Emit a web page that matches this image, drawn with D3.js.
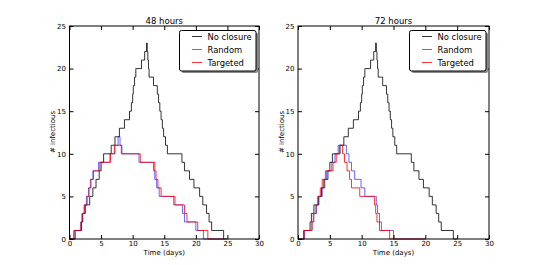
<!DOCTYPE html>
<html>
<head>
<meta charset="utf-8">
<script src="https://cdn.jsdelivr.net/npm/d3@7"></script>
<style>
  body { margin: 0; background: #fff; }
  text { font-family: "DejaVu Sans", sans-serif; font-size: 7px; fill: #000; }
</style>
</head>
<body>
<svg id="chart" width="544" height="265"></svg>
<script>
// step series: time (days) where the count changes, and the count after it
var xTicks = [0, 5, 10, 15, 20, 25, 30];
var yTicks = [0, 5, 10, 15, 20, 25];
var seriesNames = ['No closure', 'Random', 'Targeted'];
var panelTitles = ['48 hours', '72 hours'];

var noClosureT = [0, 0.9, 1.9, 2.1, 2.5, 3.2, 3.7, 4.2, 4.7, 5.0, 5.4, 6.6, 7.2, 7.9, 8.7, 9.5, 9.8, 10.0, 10.1, 10.3, 10.5, 11.4, 11.9, 12.2, 12.3, 12.4, 12.5, 12.6, 13.3, 13.9, 14.1, 14.3, 14.5, 14.7, 14.9, 15.2, 15.5, 17.8, 18.2, 19.0, 19.7, 20.6, 21.1, 21.7, 22.1, 22.5, 24.4, 25.0];
var noClosureV = [0, 1, 2, 3, 4, 5, 6, 7, 8, 9, 10, 11, 12, 13, 14, 15, 16, 17, 18, 19, 20, 21, 22, 23, 22, 21, 20, 19, 18, 17, 16, 15, 14, 13, 12, 11, 10, 9, 8, 7, 6, 5, 4, 3, 2, 1, 0, 0];

var random48T = [0, 0.7, 1.8, 2.0, 2.3, 2.7, 3.0, 3.3, 3.7, 4.6, 6.4, 7.2, 7.7, 8.0, 8.3, 11.0, 13.3, 13.5, 13.8, 14.2, 16.5, 17.9, 18.2, 20.0, 21.2, 24.5];
var random48V = [0, 1, 2, 3, 4, 5, 6, 7, 8, 9, 10, 11, 12, 11, 10, 9, 8, 7, 6, 5, 4, 3, 2, 1, 0, 0];
var targeted48T = [0, 0.7, 1.8, 2.0, 2.4, 2.8, 3.1, 3.4, 3.8, 4.8, 6.5, 7.1, 8.2, 11.2, 13.5, 13.7, 14.0, 14.5, 16.7, 18.2, 18.6, 20.3, 21.9, 24.5];
var targeted48V = [0, 1, 2, 3, 4, 5, 6, 7, 8, 9, 10, 11, 10, 9, 8, 7, 6, 5, 4, 3, 2, 1, 0, 0];

var random72T = [0, 1.0, 2.2, 2.5, 2.9, 3.3, 3.8, 4.0, 4.5, 5.3, 5.8, 6.3, 7.6, 8.0, 8.4, 8.9, 9.9, 10.5, 12.3, 12.5, 12.8, 13.1, 15.0, 20.0];
var random72V = [0, 1, 2, 3, 4, 5, 6, 7, 8, 9, 10, 11, 10, 9, 8, 7, 6, 5, 4, 3, 2, 1, 0, 0];
var targeted72T = [0, 0.95, 2.2, 2.4, 2.8, 3.1, 3.5, 3.8, 4.3, 5.5, 6.0, 6.5, 7.0, 7.3, 7.7, 8.1, 8.4, 9.7, 12.0, 12.2, 12.4, 12.8, 14.4, 20.0];
var targeted72V = [0, 1, 2, 3, 4, 5, 6, 7, 8, 9, 10, 11, 10, 9, 8, 7, 6, 5, 4, 3, 2, 1, 0, 0];

var colors = ['#000000', '#0000ff', '#ff0000'];
var opac = [0.8, 0.6, 0.8];

var panels = [
  { x0: 69.5, x1: 259, title: panelTitles[0],
    series: [[noClosureT, noClosureV], [random48T, random48V], [targeted48T, targeted48V]] },
  { x0: 298, x1: 489, title: panelTitles[1],
    series: [[noClosureT, noClosureV], [random72T, random72V], [targeted72T, targeted72V]] }
];

var svg = d3.select('#chart');
svg.append('rect').attr('width', 544).attr('height', 265).attr('fill', '#fff');

panels.forEach(function(p) {
  var x = d3.scaleLinear().domain([0, 30]).range([p.x0, p.x1]);
  var y = d3.scaleLinear().domain([0, 25]).range([239, 26]);
  var g = svg.append('g');

  var line = d3.line()
    .x(function(d) { return x(d[0]); })
    .y(function(d) { return y(d[1]); })
    .curve(d3.curveStepAfter);

  p.series.forEach(function(s, i) {
    var pts = s[0].map(function(t, k) { return [t, s[1][k]]; });
    g.append('path')
      .attr('d', line(pts))
      .attr('fill', 'none')
      .attr('stroke', colors[i])
      .attr('stroke-opacity', opac[i])
      .attr('stroke-width', 1);
  });

  // axes with inward ticks on all four sides
  var bottom = d3.axisBottom(x).tickValues(xTicks).tickSizeInner(-4).tickSizeOuter(0).tickPadding(2);
  var top = d3.axisTop(x).tickValues(xTicks).tickSizeInner(-4).tickSizeOuter(0).tickFormat('');
  var left = d3.axisLeft(y).tickValues(yTicks).tickSizeInner(-4).tickSizeOuter(0).tickPadding(3.5);
  var right = d3.axisRight(y).tickValues(yTicks).tickSizeInner(-4).tickSizeOuter(0).tickFormat('');

  [[bottom, 'translate(0,239)'], [top, 'translate(0,26)'],
   [left, 'translate(' + p.x0 + ',0)'], [right, 'translate(' + p.x1 + ',0)']].forEach(function(a) {
    var ax = g.append('g').attr('transform', a[1]).call(a[0]);
    ax.select('.domain').remove();
    ax.selectAll('line').attr('stroke', '#000');
    ax.selectAll('text').style('font-size', '7px').attr('fill', '#000');
  });

  g.append('rect')
    .attr('x', p.x0).attr('y', 26)
    .attr('width', p.x1 - p.x0).attr('height', 213)
    .attr('fill', 'none').attr('stroke', '#000').attr('stroke-width', 1);

  g.append('text')
    .attr('x', (p.x0 + p.x1) / 2).attr('y', 23.5)
    .attr('text-anchor', 'middle').style('font-size', '8.5px')
    .text(p.title);

  g.append('text')
    .attr('x', (p.x0 + p.x1) / 2).attr('y', 255)
    .attr('text-anchor', 'middle')
    .text('Time (days)');

  g.append('text')
    .attr('transform', 'translate(' + (p.x0 - 14.5) + ',132) rotate(-90)')
    .attr('text-anchor', 'middle')
    .text('# infectious');

  // legend
  var lx = p.x1 - 79.5, ly = 30.5;
  var lg = g.append('g').attr('transform', 'translate(' + lx + ',' + ly + ')');
  lg.append('rect').attr('x', 2).attr('y', 2).attr('width', 76.5).attr('height', 40.5)
    .attr('rx', 2).attr('fill', '#888');
  lg.append('rect').attr('x', 0).attr('y', 0).attr('width', 76.5).attr('height', 40.5)
    .attr('rx', 2).attr('fill', '#fff').attr('stroke', '#000').attr('stroke-width', 1);
  seriesNames.forEach(function(name, i) {
    var yy = 6 + i * 13;
    lg.append('line').attr('x1', 12.5).attr('x2', 22.5).attr('y1', yy).attr('y2', yy)
      .attr('stroke', colors[i]).attr('stroke-opacity', opac[i]);
    lg.append('text').attr('x', 28).attr('y', yy + 3).style('font-size', '8.4px').text(name);
  });
});
</script>
</body>
</html>
